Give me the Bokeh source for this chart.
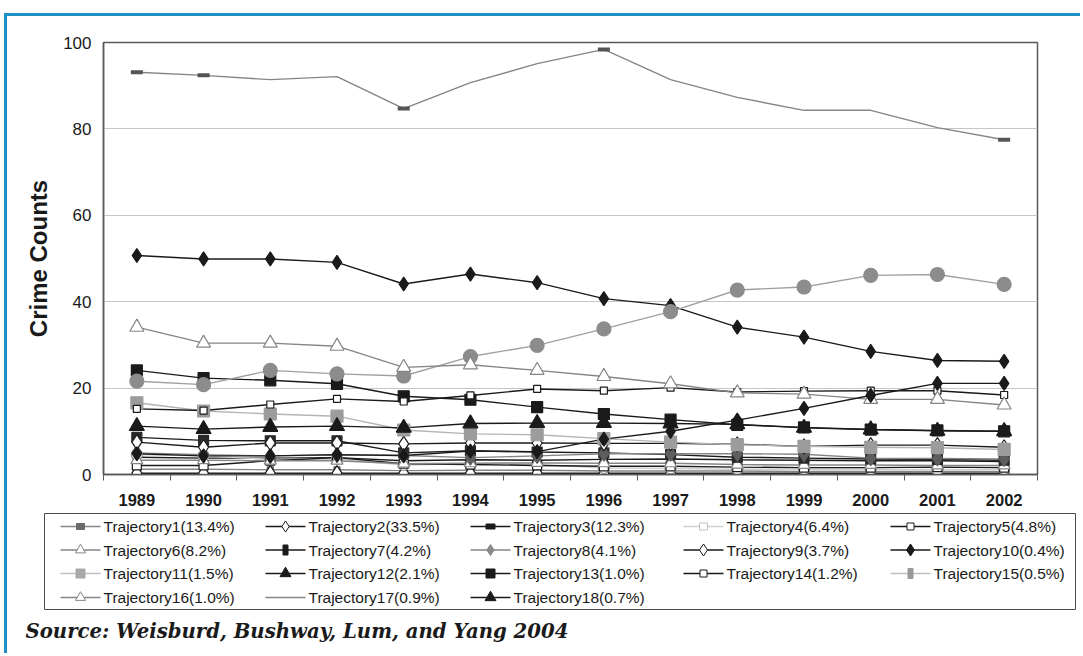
from bokeh.plotting import figure
from bokeh.models import Range1d, FixedTicker, Spacer
from bokeh.layouts import column, row
from bokeh.embed import file_html
from bokeh.resources import INLINE
from bokeh.core.properties import value

# ---------------- data ----------------
years = [1989, 1990, 1991, 1992, 1993, 1994, 1995, 1996, 1997, 1998, 1999, 2000, 2001, 2002]
y_ticks = [0, 20, 40, 60, 80, 100]

t1 = [1.2, 1.2, 1.1, 1.1, 0.9, 1.0, 1.0, 0.8, 0.8, 0.8, 0.7, 0.7, 0.7, 0.7]
t2 = [0.3, 0.3, 0.3, 0.3, 0.3, 0.3, 0.3, 0.3, 0.3, 0.3, 0.3, 0.3, 0.3, 0.3]
t3 = [4.0, 3.8, 3.8, 3.9, 3.2, 3.4, 3.3, 3.5, 3.6, 3.4, 3.3, 3.2, 3.2, 3.0]
t4 = [4.6, 4.3, 3.5, 3.6, 2.2, 2.5, 2.3, 1.5, 1.4, 1.2, 1.2, 1.2, 1.1, 1.2]
t5 = [2.1, 2.1, 3.2, 3.9, 2.5, 2.3, 2.1, 1.9, 1.9, 1.7, 1.6, 1.6, 1.7, 1.6]
t6 = [3.3, 3.3, 3.2, 3.2, 2.5, 2.6, 2.7, 2.6, 2.6, 2.3, 2.2, 2.2, 2.1, 2.1]
t7 = [8.6, 7.9, 7.8, 7.8, 5.0, 5.5, 5.2, 5.0, 4.6, 4.0, 3.8, 3.6, 3.5, 3.3]
t8 = [5.0, 4.6, 4.3, 4.5, 4.4, 3.9, 4.3, 4.8, 4.8, 4.8, 4.7, 3.8, 3.7, 3.6]
t9 = [7.5, 6.3, 7.3, 7.3, 7.1, 7.3, 7.3, 7.2, 7.2, 7.0, 6.5, 6.8, 6.8, 6.3]
t10 = [50.7, 49.9, 49.9, 49.1, 44.1, 46.4, 44.4, 40.7, 39.1, 34.1, 31.8, 28.5, 26.4, 26.2]
t11 = [16.6, 14.7, 14.0, 13.5, 10.3, 9.4, 9.2, 8.3, 7.5, 6.9, 6.5, 6.3, 6.2, 5.8]
t12 = [11.2, 10.5, 11.0, 11.2, 10.8, 11.8, 11.9, 11.9, 11.8, 11.6, 10.8, 10.4, 10.1, 10.0]
t13 = [24.1, 22.3, 21.8, 21.0, 18.1, 17.3, 15.6, 14.0, 12.7, 11.5, 10.9, 10.4, 10.2, 10.0]
t14 = [15.2, 14.8, 16.2, 17.5, 16.9, 18.3, 19.8, 19.4, 20.1, 19.1, 19.3, 19.4, 19.4, 18.4]
t15 = [21.6, 20.8, 24.1, 23.3, 22.8, 27.3, 29.9, 33.7, 37.7, 42.7, 43.4, 46.1, 46.3, 44.0]
t16 = [34.1, 30.4, 30.4, 29.7, 24.8, 25.4, 24.1, 22.7, 21.0, 18.9, 18.6, 17.4, 17.4, 16.1]
t17 = [93.1, 92.4, 91.4, 92.1, 84.7, 90.7, 95.1, 98.4, 91.4, 87.3, 84.3, 84.3, 80.3, 77.5]
t18 = [4.8, 4.3, 4.3, 4.6, 4.4, 5.4, 5.3, 8.2, 10.0, 12.6, 15.3, 18.3, 21.1, 21.1]
t17_marker_years = [1989, 1990, 1993, 1996, 2002]

labels = ["Trajectory1(13.4%)", "Trajectory2(33.5%)", "Trajectory3(12.3%)", "Trajectory4(6.4%)",
          "Trajectory5(4.8%)", "Trajectory6(8.2%)", "Trajectory7(4.2%)", "Trajectory8(4.1%)",
          "Trajectory9(3.7%)", "Trajectory10(0.4%)", "Trajectory11(1.5%)", "Trajectory12(2.1%)",
          "Trajectory13(1.0%)", "Trajectory14(1.2%)", "Trajectory15(0.5%)", "Trajectory16(1.0%)",
          "Trajectory17(0.9%)", "Trajectory18(0.7%)"]
series = [t1, t2, t3, t4, t5, t6, t7, t8, t9, t10, t11, t12, t13, t14, t15, t16, t17, t18]
source_note = "Source: Weisburd, Bushway, Lum, and Yang 2004"

# ---------------- styles ----------------
BLK = "#1a1a1a"
GRY = "#858585"
LGR = "#b4b4b4"
plot_style = [
    (GRY, "square", 6, "#666666", "#666666"),      # 1
    (BLK, "diamond", 15, "white", BLK),            # 2
    (BLK, "square", 7, BLK, BLK),                  # 3
    ("#cfcfcf", "circle", 11, "white", "#8a8a8a"), # 4
    (BLK, "square", 9, "white", BLK),              # 5
    (GRY, "triangle", 12, "white", GRY),           # 6
    (BLK, "square", 10, "#2a2a2a", "#2a2a2a"),     # 7
    (GRY, "diamond", 15, "#5e5e5e", "#5e5e5e"),    # 8
    (BLK, "diamond", 15, "white", BLK),            # 9
    (BLK, "diamond", 14, BLK, BLK),                # 10
    (LGR, "square", 12, "#9c9c9c", "#9c9c9c"),     # 11
    (BLK, "triangle", 15, BLK, BLK),               # 12
    (BLK, "square", 11, BLK, BLK),                 # 13
    (BLK, "square", 7, "white", BLK),              # 14
    ("#a0a0a0", "circle", 14, "#8c8c8c", "#8c8c8c"),  # 15
    (GRY, "triangle", 14, "white", GRY),           # 16
    (GRY, None, 0, None, None),                    # 17
    (BLK, "diamond", 14, BLK, BLK),                # 18
]
leg_style = [
    (GRY, "rect", 8, 6, "#6a6a6a", "#6a6a6a"),
    (BLK, "diamond", 11, 0, "white", BLK),
    (BLK, "rect", 9, 5, BLK, BLK),
    ("#d0d0d0", "rect", 8, 7, "white", "#c0c0c0"),
    (BLK, "rect", 7, 7, "white", BLK),
    (GRY, "triangle", 10, 0, "white", GRY),
    (BLK, "rect", 5, 10, BLK, BLK),
    (GRY, "diamond", 11, 0, "#8a8a8a", "#8a8a8a"),
    (BLK, "diamond", 12, 0, "white", BLK),
    (BLK, "diamond", 12, 0, BLK, BLK),
    ("#c0c0c0", "rect", 9, 9, "#a8a8a8", "#a8a8a8"),
    (BLK, "triangle", 11, 0, BLK, BLK),
    (BLK, "rect", 9, 9, BLK, BLK),
    (BLK, "rect", 7, 7, "white", BLK),
    ("#c0c0c0", "rect", 5, 10, "#999999", "#999999"),
    (GRY, "triangle", 10, 0, "white", GRY),
    (GRY, None, 0, 0, None, None),
    (BLK, "triangle", 11, 0, BLK, BLK),
]

FONT = "Liberation Sans"
OX, OY = 7, 16          # page position of the content block
W = 1083 - OX
PH = 494                # plot figure height (page 16..510)
LH = 656 - OY - PH      # legend figure height (page 510..656)

# ---------------- main plot ----------------
p = figure(width=W, height=PH, x_range=Range1d(1988.5, 2002.5), y_range=Range1d(0, 100),
           output_backend="svg", toolbar_location=None,
           min_border_left=103 - OX, min_border_right=W - (1037 - OX),
           min_border_top=42 - OY, min_border_bottom=PH - (474 - OY))
p.frame_align = False
p.background_fill_color = "white"
p.border_fill_color = "white"
p.outline_line_color = "#5a5a5a"
p.outline_line_width = 1.5
p.xgrid.visible = False
p.ygrid.grid_line_color = "#c6c6c6"
p.ygrid.grid_line_width = 1

p.yaxis.ticker = FixedTicker(ticks=y_ticks)
p.yaxis.major_tick_out = 0
p.yaxis.major_tick_in = 0
p.yaxis.minor_tick_out = 0
p.yaxis.minor_tick_in = 0
p.yaxis.axis_line_color = "#5a5a5a"
p.yaxis.axis_line_width = 1.5
p.yaxis.major_label_text_font = FONT
p.yaxis.major_label_text_font_size = "17px"
p.yaxis.major_label_text_color = "#1a1a1a"
p.yaxis.major_label_standoff = 12
p.yaxis.axis_label = "Crime Counts"
p.yaxis.axis_label_text_font = FONT
p.yaxis.axis_label_text_font_style = "bold"
p.yaxis.axis_label_text_font_size = "24px"
p.yaxis.axis_label_text_color = "#1a1a1a"
p.yaxis.axis_label_standoff = 8

p.xaxis.ticker = FixedTicker(ticks=years, minor_ticks=[y - 0.5 for y in years] + [years[-1] + 0.5])
p.xaxis.major_tick_out = 0
p.xaxis.major_tick_in = 0
p.xaxis.minor_tick_out = 6
p.xaxis.minor_tick_in = 0
p.xaxis.minor_tick_line_color = "#5a5a5a"
p.xaxis.axis_line_color = "#5a5a5a"
p.xaxis.axis_line_width = 1.5
p.xaxis.major_label_text_font = FONT
p.xaxis.major_label_text_font_style = "bold"
p.xaxis.major_label_text_font_size = "16.5px"
p.xaxis.major_label_text_color = "#1a1a1a"
p.xaxis.major_label_standoff = 13

for vals, (lc, mk, sz, fc, mlc) in zip(series, plot_style):
    p.line(years, vals, line_color=lc, line_width=1.4)
for idx, (vals, (lc, mk, sz, fc, mlc)) in enumerate(zip(series, plot_style)):
    if mk is not None:
        p.scatter(years, vals, marker=mk, size=sz, fill_color=fc, line_color=mlc, line_width=1.2)
    if idx == 16:
        xs = [yr for yr in years if yr in t17_marker_years]
        ys = [v for yr, v in zip(years, t17) if yr in t17_marker_years]
        p.scatter(xs, ys, marker="dash", size=12, line_color="#555555", line_width=4)

# ---------------- legend + source (page pixel coordinates) ----------------
leg = figure(width=W, height=LH, x_range=Range1d(OX, 1083), y_range=Range1d(656, OY + PH),
             output_backend="svg", toolbar_location=None, min_border=0,
             x_axis_type=None, y_axis_type=None)
leg.frame_align = False
leg.grid.visible = False
leg.outline_line_color = None
leg.background_fill_color = "white"
leg.border_fill_color = "white"

leg.quad(left=44, right=1075, top=513, bottom=609, fill_color=None, line_color="#4a4a4a", line_width=1)

col_x = [103, 308, 513, 726, 933]
row_y = [526, 549.5, 573, 597]
for i, (lab, (lc, mk, w, h, fc, mlc)) in enumerate(zip(labels, leg_style)):
    tx = col_x[i % 5]
    ty = row_y[i // 5]
    leg.segment(x0=tx - 43, y0=ty, x1=tx - 3, y1=ty, line_color=lc, line_width=1.3)
    mx = tx - 23
    if mk == "rect":
        leg.rect(x=mx, y=ty, width=w, height=h, fill_color=fc, line_color=mlc, line_width=1)
    elif mk is not None:
        leg.scatter(x=[mx], y=[ty], marker=mk, size=w, fill_color=fc, line_color=mlc, line_width=1)
    leg.text(x=[tx], y=[ty], text=[lab], text_font=value(FONT), text_font_size="15.5px",
             text_color="#1a1a1a", text_baseline="middle", text_align="left")

leg.text(x=[25], y=[631], text=[source_note], text_font=value("DejaVu Serif"),
         text_font_style="bold italic", text_font_size="19.7px", text_color="#1a1a1a",
         text_baseline="middle", text_align="left")

inner = column(p, leg, styles={"box-shadow": "-3px -3px 0 0 #1f8fc7"})
root = column(Spacer(width=1083, height=OY), row(Spacer(width=OX, height=PH + LH), inner))

open("out.html", "w").write(file_html(root, INLINE))
